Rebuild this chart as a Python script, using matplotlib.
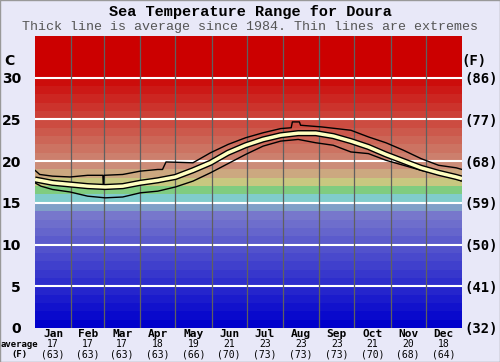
import numpy as np
import matplotlib.pyplot as plt

# 数据
months = ["Jan", "Feb", "Mar", "Apr", "May", "Jun", "Jul", "Aug", "Sep", "Oct", "Nov", "Dec"]
month_days = [31, 28, 31, 30, 31, 30, 31, 31, 30, 31, 30, 31]
avg_c = [17, 17, 17, 18, 19, 21, 23, 23, 23, 21, 20, 18]
avg_f = [63, 63, 63, 63, 66, 70, 73, 73, 73, 70, 68, 64]

# 平均线 (日, 温度)
avg_day = [0, 15, 30, 45, 60, 75, 90, 105, 120, 135, 150, 165, 180, 195, 210, 225, 240, 255,
           270, 285, 300, 315, 330, 345, 360, 365]
avg_temp = [17.8, 17.4, 17.2, 17.0, 16.9, 17.0, 17.4, 17.7, 18.1, 18.9, 19.8, 21.0, 21.9, 22.6,
            23.1, 23.35, 23.35, 23.0, 22.4, 21.7, 20.8, 20.0, 19.2, 18.6, 18.1, 17.9]

# 最高线
max_day = [0, 4, 15, 30, 45, 58, 58.5, 59, 75, 90, 105, 109, 112, 135, 150, 165, 180, 195, 210,
           219, 220, 226, 227, 245, 270, 285, 300, 315, 330, 345, 360, 365]
max_temp = [18.9, 18.4, 18.2, 18.1, 18.3, 18.3, 16.6, 18.3, 18.4, 18.8, 19.0, 19.0, 19.9, 19.8,
            21.0, 22.0, 22.8, 23.4, 23.9, 24.0, 24.7, 24.7, 24.3, 24.1, 23.7, 22.9, 22.2, 21.3,
            20.3, 19.5, 19.2, 19.0]

# 最低线
min_day = [0, 5, 15, 30, 45, 60, 75, 90, 105, 120, 135, 150, 165, 180, 195, 210, 225, 240, 255,
           270, 285, 300, 315, 330, 345, 360, 365]
min_temp = [17.4, 17.0, 16.6, 16.3, 15.8, 15.6, 15.7, 16.2, 16.4, 16.9, 17.6, 18.6, 19.7, 20.8,
            21.8, 22.4, 22.6, 22.2, 21.9, 21.1, 20.9, 20.1, 19.5, 18.9, 18.4, 17.9, 17.6]

c_ticks = [0, 5, 10, 15, 20, 25, 30]
f_ticks = ["(32)", "(41)", "(50)", "(59)", "(68)", "(77)", "(86)"]

bg = "#e8e8f8"
mono = "DejaVu Sans Mono"

fig = plt.figure(figsize=(5, 3.62), dpi=100, facecolor=bg)
ax = fig.add_axes([0.07, 0.094, 0.854, 0.8066])
ax.set_xlim(0, 365)
ax.set_ylim(0, 35)

# 背景色带
def band_color(i):
    if i <= 13:
        t = i / 14
        return (128 * t / 255, 128 * t / 255, 204 / 255)
    special = {14: "#80a0c8", 15: "#80cccc", 16: "#80cc80", 17: "#c8c880", 18: "#cca880"}
    if i in special:
        return special[i]
    t = min((i - 19) / 11, 1)
    return (204 / 255, 140 * (1 - t) / 255, 120 * (1 - t) / 255)

for i in range(35):
    ax.axhspan(i, i + 1, color=band_color(i), lw=0)

for y in c_ticks[1:]:
    ax.axhline(y, color="white", lw=1.5)

edges = np.cumsum([0] + month_days)
for e in edges[1:-1]:
    ax.axvline(e, color="#606060", lw=0.9)

ax.plot(max_day, max_temp, color="black", lw=1)
ax.plot(min_day, min_temp, color="black", lw=1)
ax.plot(avg_day, avg_temp, color="black", lw=4.5, solid_capstyle="butt")
ax.plot(avg_day, avg_temp, color="#ffffc0", lw=2.5, solid_capstyle="butt")

for s in ax.spines.values():
    s.set_visible(False)
ax.set_xticks([])
ax.set_yticks(c_ticks)
ax.set_yticklabels([str(v) for v in c_ticks], fontsize=10, fontweight="bold", family="DejaVu Sans")
ax.tick_params(axis="y", length=0, pad=10)

ax2 = ax.twinx()
ax2.set_ylim(0, 35)
ax2.set_yticks(c_ticks)
ax2.set_yticklabels(f_ticks, fontsize=10, fontweight="bold", family=mono)
ax2.tick_params(axis="y", length=0, pad=2)
for s in ax2.spines.values():
    s.set_visible(False)

ax.text(-22, 32, "C", fontsize=10, fontweight="bold", ha="center", va="center", clip_on=False)
ax2.text(375, 32, "(F)", fontsize=10, fontweight="bold", family=mono, ha="center", va="center",
         clip_on=False)

# 月份标签
mids = (edges[:-1] + edges[1:]) / 2
trans = ax.get_xaxis_transform()
for m, x, c, f in zip(months, mids, avg_c, avg_f):
    ax.text(x, -0.02, m, transform=trans, ha="center", va="center", fontsize=8,
            fontweight="bold", family=mono)
    ax.text(x, -0.056, str(c), transform=trans, ha="center", va="center", fontsize=7, family=mono)
    ax.text(x, -0.09, "(" + str(f) + ")", transform=trans, ha="center", va="center", fontsize=7,
            family=mono)
ax.text(-13, -0.058, "average", transform=trans, ha="center", va="center", fontsize=6.5,
        fontweight="bold", family=mono)
ax.text(-13, -0.09, "(F)", transform=trans, ha="center", va="center", fontsize=6.5,
        fontweight="bold", family=mono)

fig.text(0.5, 0.967, "Sea Temperature Range for Doura", ha="center", va="center",
         fontsize=11, fontweight="bold", family="Liberation Mono")
fig.text(0.5, 0.925, "Thick line is average since 1984. Thin lines are extremes", ha="center",
         va="center", fontsize=9.6, color="#555555", family="Liberation Mono")

fig.patches.append(plt.Rectangle((0, 0), 1, 1, transform=fig.transFigure, fill=False,
                                 edgecolor="#999999", lw=1))

fig.savefig("out.png", dpi=100, facecolor=bg)
